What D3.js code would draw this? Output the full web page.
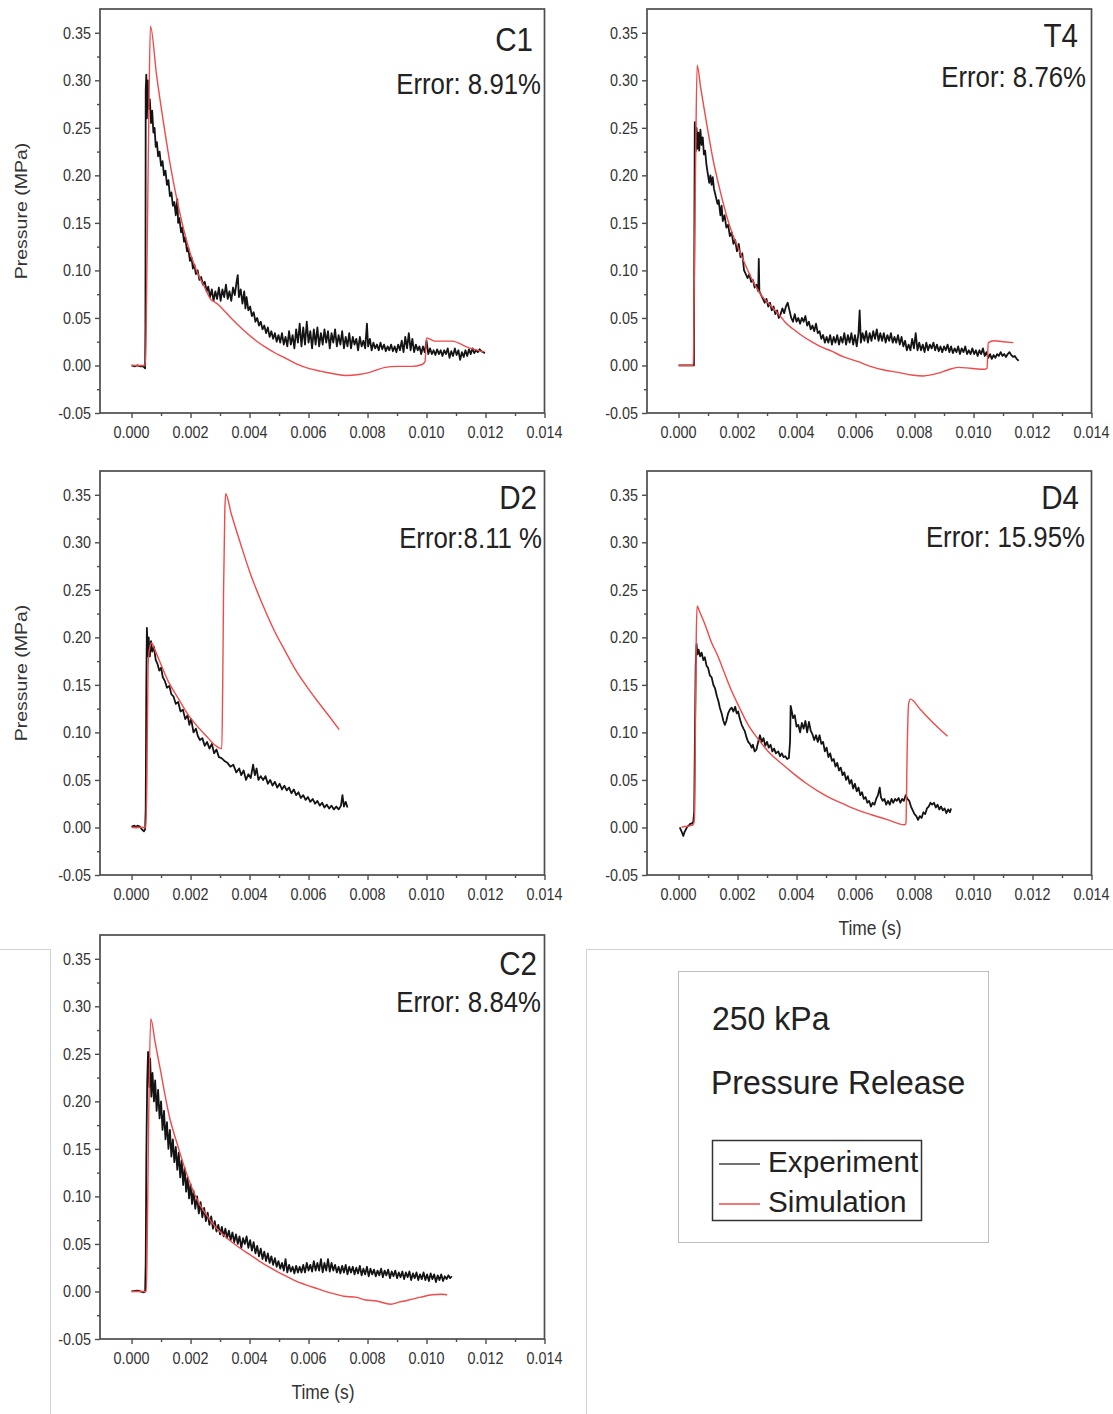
<!DOCTYPE html>
<html><head><meta charset="utf-8">
<script src="https://cdn.jsdelivr.net/npm/d3@7"></script>
<style>body{margin:0;background:#fff}svg{display:block}</style>
</head><body>
<svg id="chart" width="1113" height="1414"></svg>
<script>
// ---------- tick definitions (time in ms, pressure in MPa) ----------
const xTickValues = [0, 2, 4, 6, 8, 10, 12, 14];
const xTickLabels = ["0.000", "0.002", "0.004", "0.006", "0.008", "0.010", "0.012", "0.014"];
const xMinorValues = [1, 3, 5, 7, 9, 11, 13];
const yTickValues = [-0.05, 0, 0.05, 0.10, 0.15, 0.20, 0.25, 0.30, 0.35];
const yTickLabels = ["-0.05", "0.00", "0.05", "0.10", "0.15", "0.20", "0.25", "0.30", "0.35"];
const yMinorValues = [-0.025, 0.025, 0.075, 0.125, 0.175, 0.225, 0.275, 0.325];
const xDomain = [-1.07, 14];
const yDomain = [-0.05, 0.375];

const panelNames = ["C1", "T4", "D2", "D4", "C2"];
const errorTexts = ["Error: 8.91%", "Error: 8.76%", "Error:8.11 %", "Error: 15.95%", "Error: 8.84%"];
const legendTitle1 = "250 kPa";
const legendTitle2 = "Pressure Release";
const seriesNames = ["Experiment", "Simulation"];

// ---------- data: [time (ms), pressure (MPa)] ----------
const c1Experiment = [[0,0],[0.1,-0.001],[0.2,0],[0.3,-0.001],[0.4,-0.001],[0.46,-0.003],[0.47,0.04],[0.48,0.29],[0.5,0.306],[0.52,0.26],[0.55,0.3],[0.58,0.27],[0.62,0.28],[0.66,0.255],[0.7,0.268],[0.74,0.245],[0.78,0.25],[0.82,0.23],[0.86,0.235],[0.9,0.22],[0.95,0.225],[1.0,0.21],[1.05,0.215],[1.1,0.2],[1.15,0.205],[1.2,0.19],[1.25,0.195],[1.3,0.178],[1.35,0.182],[1.4,0.168],[1.45,0.172],[1.5,0.158],[1.55,0.175],[1.58,0.15],[1.62,0.155],[1.68,0.14],[1.72,0.145],[1.78,0.13],[1.82,0.135],[1.88,0.12],[1.92,0.124],[1.98,0.11],[2.03,0.114],[2.08,0.102],[2.13,0.106],[2.18,0.096],[2.24,0.1],[2.3,0.09],[2.36,0.093],[2.42,0.085],[2.48,0.088],[2.55,0.078],[2.6,0.083],[2.66,0.072],[2.72,0.08],[2.78,0.068],[2.84,0.078],[2.9,0.07],[2.96,0.082],[3.02,0.068],[3.08,0.08],[3.14,0.072],[3.2,0.085],[3.26,0.07],[3.32,0.078],[3.38,0.068],[3.44,0.082],[3.5,0.074],[3.56,0.088],[3.6,0.095],[3.64,0.072],[3.7,0.08],[3.76,0.065],[3.82,0.078],[3.86,0.06],[3.9,0.072],[3.96,0.058],[4.02,0.062],[4.08,0.052],[4.14,0.056],[4.2,0.046],[4.26,0.05],[4.32,0.042],[4.38,0.046],[4.44,0.038],[4.5,0.042],[4.56,0.034],[4.62,0.04],[4.68,0.03],[4.74,0.036],[4.8,0.028],[4.86,0.034],[4.92,0.025],[4.98,0.032],[5.04,0.024],[5.1,0.034],[5.16,0.022],[5.22,0.03],[5.28,0.02],[5.34,0.036],[5.4,0.022],[5.46,0.032],[5.52,0.018],[5.58,0.038],[5.64,0.024],[5.7,0.044],[5.76,0.02],[5.82,0.04],[5.88,0.022],[5.94,0.046],[6.0,0.024],[6.06,0.036],[6.12,0.018],[6.18,0.038],[6.24,0.022],[6.3,0.04],[6.36,0.02],[6.42,0.034],[6.48,0.022],[6.54,0.038],[6.6,0.024],[6.66,0.036],[6.72,0.018],[6.78,0.034],[6.84,0.024],[6.9,0.038],[6.96,0.02],[7.02,0.032],[7.08,0.022],[7.14,0.036],[7.2,0.018],[7.26,0.03],[7.32,0.02],[7.38,0.034],[7.44,0.018],[7.5,0.03],[7.56,0.022],[7.62,0.028],[7.68,0.016],[7.74,0.03],[7.8,0.02],[7.86,0.026],[7.92,0.018],[7.98,0.044],[8.02,0.02],[8.08,0.028],[8.14,0.016],[8.2,0.024],[8.26,0.018],[8.32,0.022],[8.38,0.016],[8.44,0.024],[8.5,0.017],[8.56,0.022],[8.62,0.015],[8.68,0.02],[8.74,0.016],[8.8,0.022],[8.86,0.015],[8.92,0.02],[8.98,0.014],[9.04,0.022],[9.1,0.016],[9.16,0.026],[9.22,0.014],[9.28,0.03],[9.34,0.018],[9.4,0.034],[9.46,0.016],[9.52,0.028],[9.58,0.014],[9.64,0.022],[9.7,0.016],[9.76,0.02],[9.82,0.012],[9.88,0.02],[9.94,0.014],[10.0,0.026],[10.06,0.012],[10.12,0.018],[10.18,0.012],[10.24,0.016],[10.3,0.011],[10.36,0.017],[10.42,0.012],[10.48,0.016],[10.54,0.01],[10.6,0.016],[10.66,0.012],[10.72,0.018],[10.78,0.008],[10.84,0.015],[10.9,0.01],[10.96,0.018],[11.02,0.011],[11.08,0.016],[11.14,0.006],[11.2,0.014],[11.26,0.009],[11.32,0.016],[11.38,0.01],[11.44,0.017],[11.5,0.012],[11.56,0.018],[11.62,0.013],[11.68,0.016],[11.74,0.014],[11.8,0.017],[11.86,0.015],[11.92,0.014],[11.98,0.013]];
const c1Simulation = [[0,0],[0.47,0],[0.52,0.1],[0.58,0.25],[0.64,0.357],[0.85,0.305],[1.07,0.258],[1.29,0.215],[1.47,0.185],[1.69,0.153],[1.97,0.12],[2.2,0.1],[2.48,0.082],[2.7,0.069],[2.8,0.067],[2.9,0.065],[3.1,0.059],[3.43,0.048],[3.8,0.037],[4.22,0.026],[4.55,0.019],[4.9,0.0126],[5.2,0.008],[5.57,0.002],[6.0,-0.003],[6.4,-0.006],[6.9,-0.009],[7.26,-0.0105],[7.7,-0.0095],[8.1,-0.007],[8.6,-0.002],[9.0,-0.001],[9.5,-0.001],[9.85,0.001],[9.95,0.004],[10.0,0.029],[10.3,0.0256],[10.86,0.0256],[11.4,0.019],[11.94,0.014]];

const t4Experiment = [[0,0],[0.2,0],[0.4,0],[0.52,0],[0.53,0.09],[0.55,0.256],[0.58,0.225],[0.61,0.25],[0.64,0.228],[0.67,0.245],[0.7,0.226],[0.74,0.248],[0.78,0.232],[0.82,0.24],[0.86,0.222],[0.9,0.226],[0.95,0.21],[1.0,0.2],[1.04,0.192],[1.08,0.2],[1.12,0.19],[1.16,0.198],[1.2,0.186],[1.26,0.178],[1.32,0.17],[1.36,0.174],[1.42,0.158],[1.46,0.168],[1.5,0.152],[1.56,0.158],[1.62,0.145],[1.68,0.148],[1.74,0.136],[1.8,0.14],[1.86,0.128],[1.92,0.132],[1.98,0.12],[2.04,0.128],[2.1,0.114],[2.16,0.118],[2.22,0.1],[2.28,0.096],[2.34,0.092],[2.4,0.096],[2.46,0.088],[2.52,0.09],[2.58,0.082],[2.64,0.085],[2.7,0.078],[2.72,0.112],[2.74,0.078],[2.8,0.074],[2.86,0.07],[2.92,0.066],[2.98,0.07],[3.04,0.062],[3.1,0.066],[3.16,0.058],[3.22,0.062],[3.28,0.054],[3.34,0.058],[3.4,0.05],[3.46,0.054],[3.52,0.06],[3.58,0.055],[3.64,0.062],[3.7,0.066],[3.76,0.058],[3.82,0.05],[3.88,0.046],[3.94,0.054],[4.0,0.046],[4.06,0.05],[4.12,0.044],[4.18,0.05],[4.24,0.046],[4.3,0.052],[4.36,0.042],[4.42,0.046],[4.48,0.038],[4.54,0.042],[4.6,0.036],[4.66,0.044],[4.72,0.034],[4.78,0.036],[4.84,0.028],[4.9,0.032],[4.96,0.024],[5.02,0.03],[5.08,0.024],[5.14,0.032],[5.2,0.022],[5.26,0.03],[5.32,0.024],[5.38,0.032],[5.44,0.022],[5.5,0.03],[5.56,0.024],[5.62,0.034],[5.68,0.022],[5.74,0.032],[5.8,0.024],[5.86,0.034],[5.92,0.022],[5.98,0.032],[6.04,0.02],[6.1,0.034],[6.14,0.058],[6.18,0.024],[6.24,0.034],[6.3,0.026],[6.36,0.036],[6.42,0.024],[6.48,0.034],[6.54,0.026],[6.6,0.036],[6.66,0.028],[6.72,0.038],[6.78,0.026],[6.84,0.034],[6.9,0.026],[6.96,0.034],[7.02,0.024],[7.08,0.032],[7.14,0.026],[7.2,0.034],[7.26,0.024],[7.32,0.03],[7.38,0.024],[7.44,0.032],[7.5,0.022],[7.56,0.03],[7.62,0.02],[7.68,0.026],[7.74,0.016],[7.8,0.022],[7.86,0.016],[7.92,0.028],[7.98,0.018],[8.04,0.034],[8.1,0.016],[8.16,0.024],[8.22,0.016],[8.28,0.022],[8.34,0.014],[8.4,0.024],[8.46,0.016],[8.52,0.022],[8.58,0.018],[8.64,0.024],[8.7,0.016],[8.76,0.022],[8.82,0.015],[8.88,0.02],[8.94,0.014],[9.0,0.02],[9.06,0.016],[9.12,0.022],[9.18,0.014],[9.24,0.02],[9.3,0.013],[9.36,0.018],[9.42,0.014],[9.48,0.02],[9.54,0.012],[9.6,0.018],[9.66,0.014],[9.72,0.02],[9.78,0.012],[9.84,0.016],[9.9,0.012],[9.96,0.018],[10.02,0.012],[10.08,0.016],[10.14,0.01],[10.2,0.016],[10.26,0.012],[10.32,0.018],[10.38,0.01],[10.44,0.014],[10.5,0.008],[10.56,0.012],[10.62,0.007],[10.68,0.011],[10.74,0.008],[10.8,0.012],[10.86,0.01],[10.92,0.014],[10.98,0.01],[11.04,0.012],[11.1,0.009],[11.16,0.012],[11.22,0.014],[11.28,0.011],[11.34,0.009],[11.4,0.01],[11.46,0.007],[11.53,0.005]];
const t4Simulation = [[0,0],[0.5,0],[0.53,0.08],[0.58,0.22],[0.63,0.316],[0.75,0.292],[0.95,0.255],[1.16,0.218],[1.40,0.185],[1.7,0.15],[2.14,0.115],[2.5,0.09],[2.8,0.074],[3.15,0.062],[3.5,0.05],[3.6,0.046],[3.94,0.037],[4.2,0.031],[4.51,0.025],[4.8,0.02],[5.19,0.015],[5.6,0.009],[6.09,0.004],[6.5,-0.001],[7.0,-0.005],[7.4,-0.007],[7.9,-0.010],[8.3,-0.011],[8.81,-0.008],[9.1,-0.005],[9.48,-0.002],[9.9,-0.003],[10.39,-0.004],[10.46,-0.003],[10.5,0.024],[10.7,0.026],[11.0,0.025],[11.35,0.024]];

const d2Experiment = [[0,0.001],[0.1,0.002],[0.15,0],[0.2,0.002],[0.28,0.001],[0.35,-0.002],[0.42,-0.004],[0.46,-0.002],[0.48,0.02],[0.5,0.15],[0.52,0.21],[0.55,0.18],[0.58,0.2],[0.62,0.18],[0.66,0.196],[0.7,0.185],[0.76,0.19],[0.82,0.176],[0.88,0.172],[0.94,0.165],[1.0,0.168],[1.06,0.158],[1.13,0.154],[1.2,0.147],[1.28,0.149],[1.35,0.14],[1.42,0.138],[1.5,0.13],[1.58,0.132],[1.66,0.122],[1.74,0.124],[1.82,0.114],[1.9,0.118],[1.96,0.108],[2.02,0.114],[2.1,0.1],[2.18,0.104],[2.25,0.096],[2.32,0.092],[2.4,0.094],[2.48,0.086],[2.56,0.09],[2.64,0.083],[2.72,0.088],[2.8,0.078],[2.88,0.082],[2.96,0.074],[3.05,0.073],[3.15,0.07],[3.25,0.068],[3.35,0.064],[3.45,0.066],[3.55,0.058],[3.65,0.062],[3.72,0.055],[3.8,0.06],[3.88,0.05],[3.96,0.056],[4.04,0.052],[4.12,0.066],[4.18,0.055],[4.24,0.062],[4.3,0.05],[4.38,0.054],[4.46,0.05],[4.54,0.054],[4.62,0.046],[4.7,0.05],[4.78,0.044],[4.86,0.048],[4.94,0.042],[5.02,0.046],[5.1,0.04],[5.18,0.044],[5.26,0.039],[5.34,0.042],[5.42,0.036],[5.5,0.04],[5.58,0.034],[5.66,0.037],[5.74,0.031],[5.82,0.034],[5.9,0.029],[5.98,0.032],[6.06,0.027],[6.14,0.03],[6.22,0.025],[6.3,0.028],[6.38,0.023],[6.46,0.026],[6.54,0.021],[6.62,0.024],[6.7,0.02],[6.78,0.023],[6.86,0.019],[6.94,0.022],[7.02,0.019],[7.1,0.023],[7.15,0.034],[7.2,0.022],[7.26,0.027],[7.32,0.021]];
const d2Simulation = [[0,0],[0.48,0],[0.52,0.05],[0.56,0.17],[0.62,0.19],[0.68,0.194],[0.8,0.186],[1.24,0.154],[1.6,0.135],[1.91,0.119],[2.3,0.104],[2.6,0.094],[2.81,0.087],[3.06,0.083],[3.09,0.15],[3.12,0.25],[3.16,0.33],[3.19,0.351],[3.38,0.33],[3.7,0.298],[4.05,0.265],[4.45,0.234],[4.84,0.207],[5.2,0.186],[5.52,0.168],[5.9,0.15],[6.3,0.133],[6.7,0.117],[7.04,0.103]];

const d4Experiment = [[0.04,0],[0.1,-0.004],[0.16,-0.009],[0.2,-0.005],[0.25,-0.002],[0.3,0.001],[0.35,0.002],[0.4,0.004],[0.45,0.004],[0.5,0.006],[0.53,0.017],[0.55,0.08],[0.58,0.17],[0.61,0.193],[0.64,0.182],[0.68,0.187],[0.73,0.18],[0.78,0.184],[0.84,0.176],[0.89,0.179],[0.95,0.17],[1.0,0.168],[1.06,0.16],[1.12,0.158],[1.18,0.15],[1.24,0.146],[1.3,0.138],[1.35,0.133],[1.4,0.126],[1.46,0.12],[1.52,0.112],[1.57,0.108],[1.62,0.112],[1.68,0.12],[1.74,0.124],[1.8,0.126],[1.86,0.122],[1.92,0.127],[1.97,0.12],[2.02,0.122],[2.08,0.114],[2.14,0.108],[2.2,0.104],[2.25,0.101],[2.3,0.095],[2.36,0.09],[2.42,0.088],[2.48,0.084],[2.52,0.087],[2.58,0.08],[2.64,0.082],[2.7,0.09],[2.76,0.097],[2.82,0.09],[2.88,0.094],[2.94,0.086],[3.0,0.09],[3.06,0.084],[3.12,0.087],[3.18,0.08],[3.24,0.083],[3.3,0.078],[3.38,0.08],[3.44,0.075],[3.5,0.078],[3.56,0.074],[3.62,0.075],[3.68,0.072],[3.74,0.073],[3.78,0.09],[3.8,0.128],[3.84,0.122],[3.88,0.115],[3.94,0.118],[4.0,0.106],[4.06,0.108],[4.12,0.1],[4.18,0.11],[4.24,0.104],[4.3,0.112],[4.36,0.1],[4.42,0.111],[4.48,0.102],[4.54,0.098],[4.6,0.092],[4.66,0.097],[4.72,0.09],[4.78,0.097],[4.84,0.088],[4.9,0.09],[4.96,0.08],[5.02,0.084],[5.08,0.074],[5.14,0.078],[5.2,0.07],[5.26,0.072],[5.32,0.064],[5.38,0.068],[5.44,0.06],[5.5,0.063],[5.56,0.055],[5.62,0.058],[5.68,0.05],[5.74,0.054],[5.8,0.046],[5.86,0.05],[5.92,0.041],[5.98,0.046],[6.04,0.038],[6.1,0.042],[6.16,0.034],[6.22,0.037],[6.28,0.03],[6.34,0.032],[6.4,0.026],[6.46,0.028],[6.52,0.022],[6.58,0.026],[6.64,0.024],[6.7,0.03],[6.76,0.034],[6.82,0.042],[6.86,0.032],[6.92,0.028],[6.98,0.03],[7.04,0.024],[7.1,0.028],[7.16,0.024],[7.22,0.03],[7.28,0.026],[7.34,0.03],[7.4,0.028],[7.46,0.031],[7.52,0.026],[7.58,0.03],[7.64,0.028],[7.7,0.034],[7.76,0.03],[7.82,0.028],[7.88,0.022],[7.94,0.018],[8.0,0.014],[8.06,0.012],[8.12,0.008],[8.18,0.012],[8.24,0.01],[8.3,0.016],[8.36,0.014],[8.42,0.02],[8.48,0.022],[8.54,0.026],[8.6,0.024],[8.66,0.026],[8.72,0.021],[8.78,0.024],[8.84,0.019],[8.9,0.022],[8.96,0.018],[9.02,0.02],[9.08,0.015],[9.14,0.019],[9.2,0.016],[9.24,0.02]];
const d4Simulation = [[0.1,0],[0.2,0.001],[0.3,0.001],[0.4,0.002],[0.5,0.003],[0.54,0.01],[0.57,0.1],[0.6,0.2],[0.63,0.233],[0.7,0.228],[0.89,0.214],[1.1,0.196],[1.35,0.179],[1.55,0.163],[1.80,0.1435],[2.05,0.127],[2.36,0.108],[2.7,0.093],[3.04,0.080],[3.5,0.067],[3.94,0.0556],[4.3,0.047],[4.74,0.038],[5.2,0.030],[5.64,0.024],[6.1,0.018],[6.54,0.0134],[7.1,0.008],[7.67,0.0028],[7.71,0.005],[7.75,0.08],[7.8,0.13],[7.86,0.135],[8.2,0.124],[8.6,0.111],[9.12,0.096]];

const c2Experiment = [[0,0],[0.2,0.001],[0.3,0],[0.4,-0.001],[0.46,0],[0.48,0.03],[0.5,0.14],[0.53,0.22],[0.56,0.252],[0.6,0.215],[0.63,0.245],[0.67,0.205],[0.71,0.23],[0.76,0.2],[0.8,0.222],[0.85,0.19],[0.9,0.212],[0.95,0.182],[1.0,0.2],[1.05,0.17],[1.1,0.19],[1.15,0.16],[1.2,0.178],[1.25,0.15],[1.3,0.17],[1.35,0.142],[1.4,0.16],[1.45,0.136],[1.5,0.152],[1.55,0.128],[1.6,0.146],[1.65,0.12],[1.7,0.138],[1.75,0.112],[1.8,0.13],[1.85,0.105],[1.9,0.12],[1.95,0.098],[2.0,0.113],[2.05,0.092],[2.1,0.106],[2.16,0.087],[2.22,0.1],[2.28,0.082],[2.34,0.094],[2.4,0.078],[2.46,0.088],[2.52,0.074],[2.58,0.083],[2.64,0.07],[2.7,0.079],[2.76,0.066],[2.82,0.074],[2.88,0.063],[2.94,0.07],[3.0,0.06],[3.06,0.068],[3.12,0.058],[3.18,0.066],[3.24,0.056],[3.3,0.064],[3.36,0.054],[3.42,0.062],[3.48,0.052],[3.54,0.06],[3.6,0.05],[3.66,0.058],[3.72,0.046],[3.78,0.056],[3.84,0.05],[3.9,0.058],[3.96,0.046],[4.02,0.054],[4.08,0.043],[4.14,0.052],[4.2,0.04],[4.26,0.048],[4.32,0.037],[4.38,0.045],[4.44,0.034],[4.5,0.042],[4.56,0.032],[4.62,0.04],[4.68,0.03],[4.74,0.037],[4.8,0.028],[4.86,0.035],[4.92,0.026],[4.98,0.032],[5.04,0.024],[5.1,0.03],[5.16,0.022],[5.22,0.034],[5.28,0.02],[5.34,0.028],[5.4,0.021],[5.46,0.026],[5.52,0.019],[5.58,0.027],[5.64,0.02],[5.7,0.026],[5.76,0.02],[5.82,0.028],[5.88,0.02],[5.94,0.03],[6.0,0.022],[6.06,0.028],[6.12,0.021],[6.18,0.032],[6.24,0.022],[6.3,0.03],[6.36,0.022],[6.42,0.034],[6.48,0.02],[6.54,0.03],[6.6,0.022],[6.66,0.034],[6.72,0.021],[6.78,0.03],[6.84,0.022],[6.9,0.028],[6.96,0.02],[7.02,0.026],[7.08,0.019],[7.14,0.027],[7.2,0.02],[7.26,0.028],[7.32,0.018],[7.38,0.026],[7.44,0.02],[7.5,0.026],[7.56,0.018],[7.62,0.025],[7.68,0.019],[7.74,0.027],[7.8,0.017],[7.86,0.024],[7.92,0.018],[7.98,0.026],[8.04,0.016],[8.1,0.024],[8.16,0.018],[8.22,0.023],[8.28,0.016],[8.34,0.022],[8.4,0.017],[8.46,0.024],[8.52,0.015],[8.58,0.022],[8.64,0.017],[8.7,0.023],[8.76,0.014],[8.82,0.021],[8.88,0.016],[8.94,0.022],[9.0,0.014],[9.06,0.02],[9.12,0.015],[9.18,0.021],[9.24,0.013],[9.3,0.02],[9.36,0.015],[9.42,0.021],[9.48,0.012],[9.54,0.019],[9.6,0.014],[9.66,0.02],[9.72,0.012],[9.78,0.018],[9.84,0.013],[9.9,0.02],[9.96,0.012],[10.02,0.018],[10.08,0.011],[10.14,0.019],[10.2,0.013],[10.26,0.018],[10.32,0.01],[10.38,0.017],[10.44,0.012],[10.5,0.018],[10.56,0.011],[10.62,0.016],[10.68,0.013],[10.74,0.017],[10.8,0.014],[10.86,0.016]];
const c2Simulation = [[0,0],[0.5,0],[0.53,0.05],[0.58,0.18],[0.65,0.287],[0.8,0.262],[0.96,0.236],[1.29,0.183],[1.55,0.155],[1.80,0.130],[2.25,0.095],[2.55,0.08],[2.87,0.067],[3.2,0.057],[3.66,0.046],[4.0,0.039],[4.33,0.032],[4.7,0.025],[5.12,0.018],[5.5,0.012],[5.91,0.007],[6.3,0.003],[6.81,-0.002],[7.2,-0.005],[7.6,-0.006],[7.94,-0.009],[8.3,-0.01],[8.78,-0.0134],[9.1,-0.011],[9.40,-0.009],[9.8,-0.006],[10.19,-0.0035],[10.5,-0.003],[10.70,-0.0035]];

const experimentSeries = [c1Experiment, t4Experiment, d2Experiment, d4Experiment, c2Experiment];
const simulationSeries = [c1Simulation, t4Simulation, d2Simulation, d4Simulation, c2Simulation];

// ---------- layout ----------
const PW = 444.5, PH = 404;
const layout = [
  {left:100, top:9,   yTitle:true,  xTitle:false, tx:533,  ty:51,   ex:541,  ey:94},
  {left:647, top:9,   yTitle:false, xTitle:false, tx:1078, ty:47,   ex:1086, ey:87},
  {left:100, top:471, yTitle:true,  xTitle:false, tx:537,  ty:509,  ex:542,  ey:548},
  {left:647, top:471, yTitle:false, xTitle:true,  tx:1079, ty:509,  ex:1085, ey:547},
  {left:100, top:935, yTitle:false, xTitle:true,  tx:537,  ty:975,  ex:541,  ey:1012}
];
const FONT = "'Liberation Sans', Arial, sans-serif";
const EXP_COLOR = "#141414", SIM_COLOR = "#f04a4a", AXIS_COLOR = "#4d4d4d", TXT = "#333";

const svg = d3.select("#chart");
svg.append("rect").attr("width",1113).attr("height",1414).attr("fill","#fff");

function sText(g, x, y, str, opts) {
  const o = Object.assign({size:16, sx:0.87, anchor:"start", fill:TXT, rotate:0, family:FONT}, opts||{});
  return g.append("text")
    .attr("transform", o.rotate ? `translate(${x},${y}) rotate(${o.rotate}) scale(1,${o.sx})` : `translate(${x},${y}) scale(${o.sx},1)`)
    .attr("text-anchor", o.anchor)
    .attr("font-family", o.family)
    .attr("font-size", o.size)
    .attr("fill", o.fill)
    .text(str);
}

// background frames of the composite
const deco = svg.append("g").attr("stroke","#d2d2d2").attr("stroke-width",1).attr("fill","none");
deco.append("path").attr("d","M0,949.5H50.5V1414");
deco.append("path").attr("d","M1113,949.5H586.5V1414");

panelNames.forEach((name, i) => {
  const L = layout[i];
  const g = svg.append("g");
  const x = d3.scaleLinear().domain(xDomain).range([L.left, L.left + PW]);
  const y = d3.scaleLinear().domain(yDomain).range([L.top + PH, L.top]);

  g.append("rect").attr("x", L.left).attr("y", L.top).attr("width", PW).attr("height", PH)
    .attr("fill","#fff").attr("stroke", AXIS_COLOR).attr("stroke-width", 1.7);

  const xAx = g.append("g").attr("transform", `translate(0,${L.top + PH})`)
    .call(d3.axisBottom(x).tickValues(xTickValues).tickSize(5).tickFormat(""));
  const xAxMinor = g.append("g").attr("transform", `translate(0,${L.top + PH})`)
    .call(d3.axisBottom(x).tickValues(xMinorValues).tickSize(3).tickFormat(""));
  const yAx = g.append("g").attr("transform", `translate(${L.left},0)`)
    .call(d3.axisLeft(y).tickValues(yTickValues).tickSize(5).tickFormat(""));
  const yAxMinor = g.append("g").attr("transform", `translate(${L.left},0)`)
    .call(d3.axisLeft(y).tickValues(yMinorValues).tickSize(3).tickFormat(""));
  [xAx, xAxMinor, yAx, yAxMinor].forEach(a => {
    a.select(".domain").remove();
    a.selectAll("line").attr("stroke", AXIS_COLOR).attr("stroke-width", 1.4);
  });

  xTickValues.forEach((v, k) => sText(g, x(v), L.top + PH + 25, xTickLabels[k], {size:16.5, sx:0.87, anchor:"middle"}));
  yTickValues.forEach((v, k) => sText(g, L.left - 9, y(v) + 6, yTickLabels[k], {size:16.5, sx:0.87, anchor:"end"}));

  if (L.yTitle) sText(g, 27, (L.top + L.top + PH) / 2, "Pressure (MPa)", {size:19.5, sx:0.87, anchor:"middle", rotate:-90});
  if (L.xTitle) sText(g, (x(0) + x(14)) / 2 - 15, L.top + PH + 60, "Time (s)", {size:20, sx:0.87, anchor:"middle"});

  const expLine = d3.line().x(d => x(d[0])).y(d => y(d[1]));
  const simLine = d3.line().x(d => x(d[0])).y(d => y(d[1])).curve(d3.curveMonotoneX);
  g.append("path").datum(experimentSeries[i]).attr("d", expLine)
    .attr("fill","none").attr("stroke", EXP_COLOR).attr("stroke-width", 1.8).attr("stroke-linejoin","round");
  g.append("path").datum(simulationSeries[i]).attr("d", simLine)
    .attr("fill","none").attr("stroke", SIM_COLOR).attr("stroke-width", 1.4).attr("stroke-linejoin","round");

  sText(g, L.tx, L.ty, name, {size:34, sx:0.87, anchor:"end", fill:"#222"});
  sText(g, L.ex, L.ey, errorTexts[i], {size:30, sx:0.86, anchor:"end", fill:"#222"});
});

// ---------- legend panel ----------
const lg = svg.append("g");
lg.append("rect").attr("x",678.5).attr("y",971.5).attr("width",310).attr("height",271)
  .attr("fill","#fff").attr("stroke","#bdbdbd").attr("stroke-width",1);
sText(lg, 712, 1030, legendTitle1, {size:33, sx:0.97, fill:"#222"});
sText(lg, 711, 1094, legendTitle2, {size:33, sx:0.97, fill:"#222"});
lg.append("rect").attr("x",712.5).attr("y",1140.5).attr("width",209).attr("height",80)
  .attr("fill","#fff").attr("stroke","#333").attr("stroke-width",1.5);
lg.append("line").attr("x1",719).attr("x2",760).attr("y1",1164).attr("y2",1164).attr("stroke","#444").attr("stroke-width",1.5);
lg.append("line").attr("x1",719).attr("x2",760).attr("y1",1204).attr("y2",1204).attr("stroke",SIM_COLOR).attr("stroke-width",1.5);
sText(lg, 768, 1172, seriesNames[0], {size:30, sx:0.99, fill:"#222"});
sText(lg, 768, 1212, seriesNames[1], {size:30, sx:0.99, fill:"#222"});
</script>
</body></html>
